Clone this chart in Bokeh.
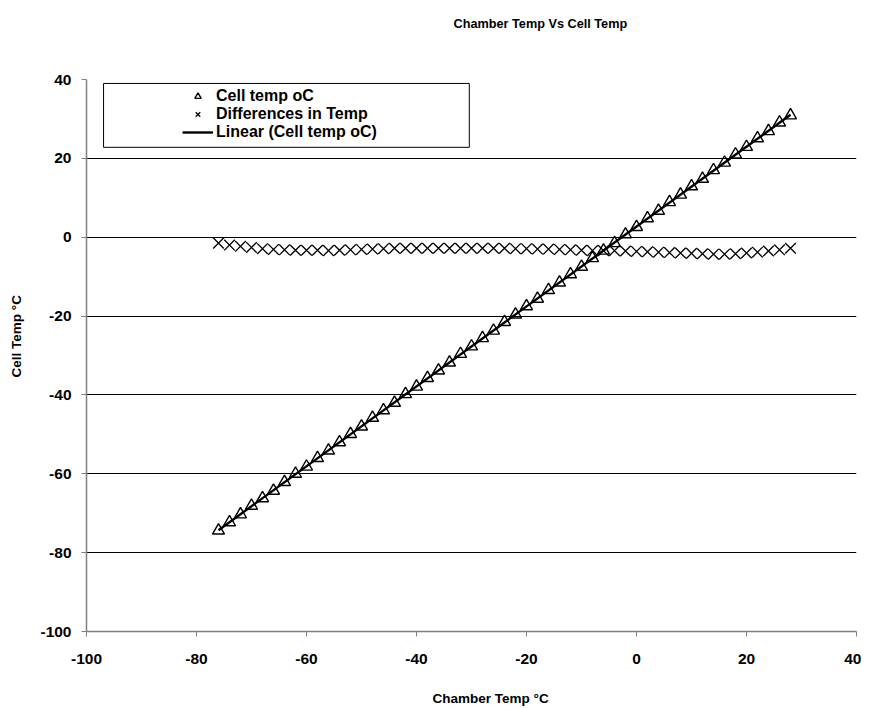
import numpy as np
from bokeh.plotting import figure
from bokeh.models import Legend, LegendItem, BoxAnnotation, Range1d, Title
from bokeh.embed import file_html
from bokeh.resources import INLINE

# ---- data ----
chamber_temp = [-76, -74, -72, -70, -68, -66, -64, -62, -60, -58, -56, -54, -52, -50,
                -48, -46, -44, -42, -40, -38, -36, -34, -32, -30, -28, -26, -24, -22,
                -20, -18, -16, -14, -12, -10, -8, -6, -4, -2, 0, 2, 4, 6, 8, 10, 12,
                14, 16, 18, 20, 22, 24, 26, 28]
cell_temp = [-74.4, -72.3, -70.3, -68.1, -66.2, -64.3, -62.1, -60.0, -58.2, -56.0,
             -54.1, -52.0, -49.9, -48.0, -45.8, -43.9, -42.0, -39.8, -37.9, -35.7,
             -33.8, -31.8, -29.6, -27.7, -25.6, -23.7, -21.5, -19.6, -17.5, -15.6,
             -13.4, -11.5, -9.4, -7.5, -5.3, -3.4, -1.5, 0.7, 2.6, 4.8, 6.7, 8.9,
             10.8, 12.9, 14.8, 17.0, 18.9, 21.0, 22.9, 25.1, 26.9, 29.1, 30.9]
diff_temp = [-1.5, -2.0, -2.3, -2.6, -2.9, -3.1, -3.2, -3.3, -3.3, -3.3, -3.4, -3.3,
             -3.2, -3.1, -3.0, -2.9, -2.8, -2.8, -2.8, -2.8, -2.8, -2.8, -2.8, -2.8,
             -2.8, -2.8, -2.8, -2.9, -2.9, -3.0, -3.0, -3.1, -3.2, -3.3, -3.4, -3.4,
             -3.4, -3.5, -3.6, -3.7, -3.8, -3.9, -4.0, -4.1, -4.2, -4.3, -4.3, -4.2,
             -4.0, -3.8, -3.5, -3.2, -2.8]
x_ticks = [-100, -80, -60, -40, -20, 0, 20, 40]
y_ticks = [-100, -80, -60, -40, -20, 0, 20, 40]

FONT = "Liberation Sans"

# linear trend of the cell temperatures (least squares, as in the spreadsheet)
slope, intercept = np.polyfit(chamber_temp, cell_temp, 1)
trend_x = [min(chamber_temp), max(chamber_temp)]
trend_y = [slope * v + intercept for v in trend_x]

p = figure(frame_width=770, frame_height=552, output_backend="svg",
           toolbar_location=None, title=None,
           x_range=Range1d(-100, 40), y_range=Range1d(-100, 40),
           min_border_left=86, min_border_right=5, min_border_top=79,
           min_border_bottom=0)
p.outline_line_color = None
p.background_fill_color = "white"
p.border_fill_color = "white"

# axes
for ax in (p.xaxis[0], p.yaxis[0]):
    ax.major_label_text_font = FONT
    ax.major_label_text_font_style = "bold"
    ax.major_label_text_font_size = "15.5px"
    ax.major_label_text_color = "black"
    ax.axis_line_color = "#808080"
    ax.axis_line_width = 1.5
    ax.major_tick_line_color = "#808080"
    ax.major_tick_in = 0
    ax.major_tick_out = 5
    ax.minor_tick_line_color = None

p.xaxis.ticker = x_ticks
p.yaxis.ticker = y_ticks
p.xaxis.major_label_overrides = {t: str(t) for t in x_ticks}
p.yaxis.major_label_overrides = {t: str(t) for t in y_ticks}
p.xaxis.major_label_standoff = 17
p.yaxis.major_label_standoff = 10

# chart title (spacer first = closest to the plot, then the title itself)
p.add_layout(Title(text=" ", text_font=FONT, text_font_size="12.7px", standoff=26), "above")
p.add_layout(Title(text="Chamber Temp Vs Cell Temp", text_font=FONT,
                   text_font_style="bold", text_font_size="12.7px", text_color="black",
                   align="left", vertical_align="top", offset=367, standoff=10), "above")

# axis titles (off-centre, as in the reference)
p.add_layout(Title(text=" ", text_font=FONT, text_font_size="10px", standoff=11), "below")
p.add_layout(Title(text="Chamber Temp °C", text_font=FONT, text_font_style="bold",
                   text_font_size="13.5px", text_color="black", align="left",
                   vertical_align="top", offset=346, standoff=0), "below")
p.add_layout(Title(text=" ", text_font=FONT, text_font_size="10px", standoff=1), "left")
p.add_layout(Title(text="Cell Temp °C", text_font=FONT, text_font_style="bold",
                   text_font_size="13.5px", text_color="black", align="left",
                   vertical_align="bottom", offset=254, standoff=0), "left")

p.xgrid.visible = False
p.ygrid.ticker = y_ticks
p.ygrid.grid_line_color = "black"
p.ygrid.grid_line_width = 1

# series
r_cell = p.scatter(chamber_temp, cell_temp, marker="triangle", size=12,
                   fill_color="white", fill_alpha=0, line_color="black", line_width=1.4)
r_diff = p.scatter(chamber_temp, diff_temp, marker="x", size=15,
                   line_color="black", line_width=1.3)
r_trend = p.line(trend_x, trend_y, line_color="black", line_width=2.4)

# legend box
box = BoxAnnotation(left=-96.9, right=-30.4, top=39.0, bottom=22.8,
                    fill_color="white", fill_alpha=1, line_color="black",
                    line_alpha=1, line_width=1, level="overlay")
p.add_layout(box)

legend = Legend(items=[
    LegendItem(label="Cell temp oC", renderers=[r_cell]),
    LegendItem(label="Differences in Temp", renderers=[r_diff]),
    LegendItem(label="Linear (Cell temp oC)", renderers=[r_trend]),
], location=(96, 490))
legend.border_line_color = None
legend.background_fill_alpha = 0
legend.padding = 0
legend.margin = 0
legend.spacing = -4
legend.glyph_width = 31
legend.glyph_height = 16
legend.label_height = 16
legend.label_standoff = 3
legend.label_text_font = FONT
legend.label_text_font_style = "bold"
legend.label_text_font_size = "16px"
legend.label_text_color = "black"
legend.label_text_baseline = "middle"
p.add_layout(legend, "center")

open("out.html", "w").write(file_html(p, INLINE))
